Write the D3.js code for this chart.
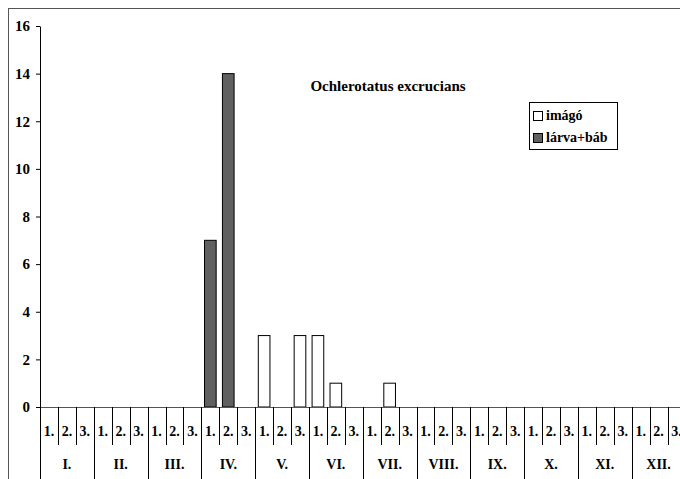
<!DOCTYPE html>
<html><head><meta charset="utf-8">
<script src="https://cdn.jsdelivr.net/npm/d3@7"></script>
<style>
html,body{margin:0;padding:0;background:#fff;overflow:hidden}
</style></head>
<body>
<svg id="c" width="680" height="479"></svg>
<script>
const months = ["I.","II.","III.","IV.","V.","VI.","VII.","VIII.","IX.","X.","XI.","XII."];
const decades = ["1.","2.","3."];
const imago = [0,0,0, 0,0,0, 0,0,0, 0,0,0, 3,0,3, 3,1,0, 0,1,0, 0,0,0, 0,0,0, 0,0,0, 0,0,0, 0,0,0];
const larvaBab = [0,0,0, 0,0,0, 0,0,0, 7,14,0, 0,0,0, 0,0,0, 0,0,0, 0,0,0, 0,0,0, 0,0,0, 0,0,0, 0,0,0];
const yTicks = [0,2,4,6,8,10,12,14,16];
const seriesNames = ["imágó","lárva+báb"];
const title = "Ochlerotatus excrucians";

const FONT = "'Liberation Serif', 'Times New Roman', 'DejaVu Serif', serif";
const svg = d3.select("#c");
const x0 = 40, step = 17.93, yBase = 407, yTop = 26;
const cats = d3.range(months.length*decades.length);
const x = d3.scaleBand().domain(cats).range([x0, x0 + step*cats.length]).padding(0);
const y = d3.scaleLinear().domain([0,16]).range([yBase, yTop]);
const barW = x.bandwidth()*0.65;

function txt(sel, size){
  return sel.attr("font-family", FONT).attr("font-weight","bold").attr("font-size", size).attr("fill","#000");
}

// outer frame
svg.append("rect").attr("x",8.5).attr("y",8.5).attr("width",700).attr("height",500)
  .attr("fill","none").attr("stroke","#555").attr("stroke-width",1);

// bars
const g = svg.append("g");
g.selectAll("rect.larva").data(cats.filter(i=>larvaBab[i]>0)).join("rect")
  .attr("x", i=>x(i)+(x.bandwidth()-barW)/2).attr("width", barW)
  .attr("y", i=>y(larvaBab[i])).attr("height", i=>yBase-y(larvaBab[i]))
  .attr("fill","#606060").attr("stroke","#000").attr("stroke-width",1);
g.selectAll("rect.imago").data(cats.filter(i=>imago[i]>0)).join("rect")
  .attr("x", i=>x(i)+(x.bandwidth()-barW)/2).attr("width", barW)
  .attr("y", i=>y(imago[i])).attr("height", i=>yBase-y(imago[i]))
  .attr("fill","#fff").attr("stroke","#000").attr("stroke-width",1);

// y axis
const ya = svg.append("g").attr("transform",`translate(${x0},0)`)
  .call(d3.axisLeft(y).tickValues(yTicks).tickSize(4).tickSizeOuter(0).tickPadding(6));
ya.attr("font-family", FONT).attr("font-size",15).attr("font-weight","bold");
ya.select(".domain").attr("stroke","#000");
ya.selectAll("line").attr("stroke","#000");
txt(ya.selectAll("text"), 15);

// x axis line
svg.append("line").attr("x1",x0).attr("x2",x0+step*cats.length).attr("y1",yBase+0.5).attr("y2",yBase+0.5)
  .attr("stroke","#555").attr("stroke-width",1.2);

// separators
const bounds = d3.range(cats.length+1);
svg.selectAll("line.sep").data(bounds).join("line")
  .attr("x1", i=>Math.round(x0+i*step)+0.5).attr("x2", i=>Math.round(x0+i*step)+0.5)
  .attr("y1", yBase).attr("y2", i=> i%3===0 ? 479 : 445)
  .attr("stroke","#000").attr("stroke-width",1);

// decade labels
txt(svg.selectAll("text.dec").data(cats).join("text")
  .attr("x", i=>x(i)+x.bandwidth()/2).attr("y", 436)
  .attr("text-anchor","middle"), 14)
  .text(i=>decades[i%3]);

// month labels
txt(svg.selectAll("text.mon").data(months).join("text")
  .attr("x",(m,j)=>x(j*3)+1.5*step).attr("y",469)
  .attr("text-anchor","middle"), 14)
  .text(m=>m);

// title
txt(svg.append("text").attr("x",388).attr("y",91).attr("text-anchor","middle"), 15).text(title);

// legend
const lg = svg.append("g");
lg.append("rect").attr("x",529.5).attr("y",102.5).attr("width",88).attr("height",47)
  .attr("fill","#fff").attr("stroke","#000");
const lfill = ["#fff","#606060"];
seriesNames.forEach((n,k)=>{
  lg.append("rect").attr("x",533.5).attr("y",111.5+k*22).attr("width",9).attr("height",9)
    .attr("fill",lfill[k]).attr("stroke","#000");
  txt(lg.append("text").attr("x",546).attr("y",120+k*22), 14).text(n);
});
</script>
</body></html>
